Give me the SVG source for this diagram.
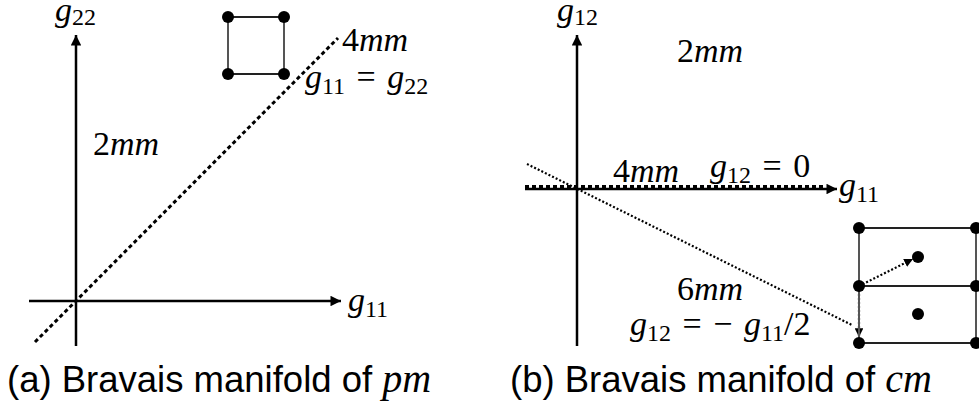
<svg xmlns="http://www.w3.org/2000/svg" width="979" height="411" viewBox="0 0 979 411">
<style>
.ax{stroke:#000;stroke-width:2.5;fill:none}
.m{font-family:"Liberation Serif",serif;font-size:34px;fill:#000}
.i{font-style:italic}
.sub{font-size:24px}
.cap{font-family:"Liberation Sans",Arial,sans-serif;font-size:36.5px;fill:#000}
.cell{stroke:#555;stroke-width:2;fill:none}
.cellh{stroke:#222;stroke-width:2;fill:none}
.dot{fill:#000}
.dash{stroke:#000;stroke-width:3;stroke-dasharray:4 3;fill:none}
.dotl{stroke:#000;stroke-width:2.2;stroke-dasharray:2 2;fill:none}
</style>
<defs>
<marker id="ah" viewBox="0 0 10 10" refX="10" refY="5" markerWidth="5" markerHeight="4.2" orient="auto" markerUnits="strokeWidth">
<path d="M0,0 L10,5 L0,10 z" fill="#000"/>
</marker>
<marker id="ahs" viewBox="0 0 10 10" refX="10" refY="5" markerWidth="4" markerHeight="4" orient="auto" markerUnits="strokeWidth">
<path d="M0,0 L10,5 L0,10 z" fill="#000"/>
</marker>
</defs>

<g id="connectors">
<line class="ax" x1="76" y1="346" x2="76" y2="35" marker-end="url(#ah)"/>
<line class="ax" x1="29" y1="301" x2="341" y2="301" marker-end="url(#ah)"/>
<line class="dash" x1="35" y1="342" x2="338" y2="38"/>
<line class="ax" x1="577" y1="346" x2="577" y2="35" marker-end="url(#ah)"/>
<line class="ax" x1="525" y1="189" x2="837" y2="189" marker-end="url(#ah)"/>
<line class="dash" x1="525" y1="186.5" x2="826" y2="186.5"/>
<line class="dotl" x1="527" y1="164" x2="852" y2="325"/>
<line class="dotl" x1="859" y1="286" x2="913" y2="259" stroke-width="1.8" marker-end="url(#ahs)"/>
<line class="dotl" x1="859" y1="286" x2="859" y2="337" stroke-width="1.8" marker-end="url(#ahs)"/>
</g>

<g id="square-lattice">
<rect class="cell" x="228" y="17" width="56" height="57"/>
<line class="cellh" x1="228" y1="17" x2="284" y2="17"/>
<line class="cellh" x1="228" y1="74" x2="284" y2="74"/>
<circle class="dot" cx="228" cy="17" r="6"/>
<circle class="dot" cx="284" cy="17" r="6"/>
<circle class="dot" cx="228" cy="74" r="6"/>
<circle class="dot" cx="284" cy="74" r="6"/>
</g>

<g id="centered-lattice">
<line class="cell" x1="859" y1="228" x2="859" y2="343"/>
<line class="cell" x1="976" y1="228" x2="976" y2="343"/>
<line class="cellh" x1="859" y1="228" x2="976" y2="228"/>
<line class="cellh" x1="859" y1="286" x2="976" y2="286"/>
<line class="cellh" x1="859" y1="343" x2="976" y2="343"/>
<circle class="dot" cx="859" cy="228" r="6"/>
<circle class="dot" cx="976" cy="228" r="6"/>
<circle class="dot" cx="859" cy="286" r="6"/>
<circle class="dot" cx="976" cy="286" r="6"/>
<circle class="dot" cx="859" cy="343" r="6"/>
<circle class="dot" cx="976" cy="343" r="6"/>
<circle class="dot" cx="918" cy="257" r="6"/>
<circle class="dot" cx="918" cy="314" r="6"/>
</g>

<g id="labels-left">
<text class="m" x="55" y="21"><tspan class="i">g</tspan><tspan class="sub" dy="4">22</tspan></text>
<text class="m" x="342" y="51">4<tspan class="i">mm</tspan></text>
<text class="m" x="305" y="88"><tspan class="i">g</tspan><tspan class="sub" dy="6">11</tspan><tspan dy="-6" dx="3"> = </tspan><tspan class="i" dx="3">g</tspan><tspan class="sub" dy="6">22</tspan></text>
<text class="m" x="93" y="155">2<tspan class="i">mm</tspan></text>
<text class="m" x="348" y="311"><tspan class="i">g</tspan><tspan class="sub" dy="6">11</tspan></text>
<text class="cap" x="7" y="392">(a) Bravais manifold of <tspan font-family="Liberation Serif,serif" font-style="italic" font-size="40px">pm</tspan></text>
</g>

<g id="labels-right">
<text class="m" x="557" y="21"><tspan class="i">g</tspan><tspan class="sub" dy="4">12</tspan></text>
<text class="m" x="677" y="62">2<tspan class="i">mm</tspan></text>
<text class="m" x="613" y="182">4<tspan class="i">mm</tspan></text>
<text class="m" x="710" y="177"><tspan class="i">g</tspan><tspan class="sub" dy="6">12</tspan><tspan dy="-6" dx="3"> = </tspan><tspan dx="3">0</tspan></text>
<text class="m" x="839" y="196"><tspan class="i">g</tspan><tspan class="sub" dy="6">11</tspan></text>
<text class="m" x="677" y="300">6<tspan class="i">mm</tspan></text>
<text class="m" x="630" y="335"><tspan class="i">g</tspan><tspan class="sub" dy="6">12</tspan><tspan dy="-6" dx="3"> = </tspan><tspan dx="3">− </tspan><tspan class="i" dx="3">g</tspan><tspan class="sub" dy="6">11</tspan><tspan dy="-6">/2</tspan></text>
<text class="cap" x="510" y="392">(b) Bravais manifold of <tspan font-family="Liberation Serif,serif" font-style="italic" font-size="40px">cm</tspan></text>
</g>
</svg>
